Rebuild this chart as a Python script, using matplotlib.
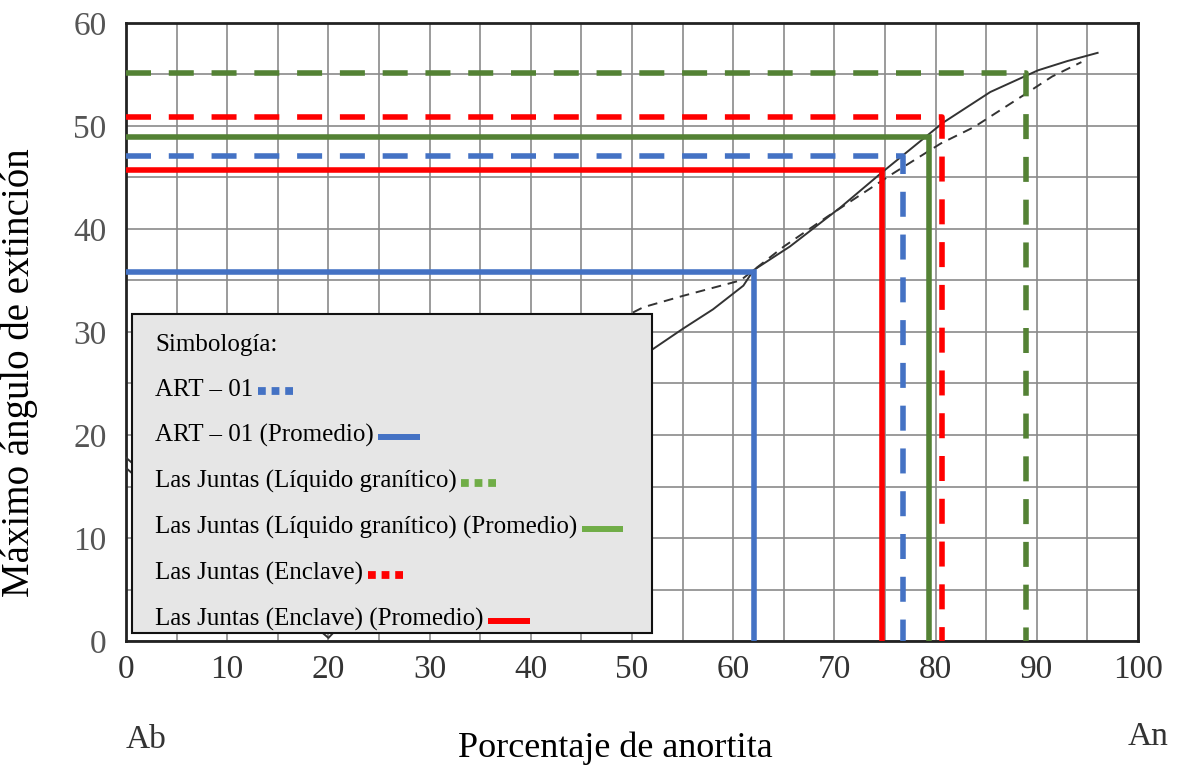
import numpy as np
import matplotlib.pyplot as plt
from matplotlib.patches import Rectangle
from matplotlib.lines import Line2D
from matplotlib.offsetbox import TextArea, DrawingArea, HPacker, VPacker, AnchoredOffsetbox

plt.rcParams['font.family'] = ['Liberation Serif', 'DejaVu Serif']

# Michel-Levy curves
solid_x = [0, 5, 10, 15, 20, 25, 30, 35, 40, 45, 50, 52, 55, 58, 61, 62, 65.6, 70.6, 74.7, 79.2, 80.7, 85.4, 90.1, 93, 96]
solid_y = [17.8, 13.5, 9, 4.5, 0.3, 5.5, 10.5, 15, 19.5, 23.5, 27, 28.3, 30.3, 32.2, 34.5, 36, 38.3, 42.1, 45.5, 49.1, 50.3, 53.3, 55.4, 56.3, 57.1]
dashed_x = [0, 5, 10, 15, 20, 25, 30, 35, 40, 45, 49.5, 51.1, 55, 60.7, 62, 65, 69.3, 75.8, 80.5, 83.8, 88.7, 91.5, 94.4]
dashed_y = [16.8, 12.5, 8, 4, 6, 10.5, 14.5, 18.5, 22.5, 27, 31.6, 32.4, 33.5, 35.0, 36, 38.3, 41.2, 45.4, 48.3, 49.9, 53, 54.8, 56.2]

# determinations: (An %, max extinction angle)
labels = ['ART – 01', 'ART – 01 (Promedio)',
          'Las Juntas (Líquido granítico)', 'Las Juntas (Líquido granítico) (Promedio)',
          'Las Juntas (Enclave)', 'Las Juntas (Enclave) (Promedio)']
an_values = [76.8, 62.0, 88.9, 79.3, 80.6, 74.7]
angle_values = [47.1, 35.8, 55.1, 48.9, 50.9, 45.7]
colors = ['#4472C4', '#4472C4', '#548235', '#548235', '#FF0000', '#FF0000']
legend_colors = ['#4472C4', '#4472C4', '#70AD47', '#70AD47', '#FF0000', '#FF0000']
is_mean = [False, True, False, True, False, True]

fig = plt.figure(figsize=(11.79, 7.71), dpi=100)
ax = fig.add_axes([0.1069, 0.1686, 0.8584, 0.8016])

ax.plot(solid_x, solid_y, color='#333333', lw=1.4, zorder=3)
ax.plot(dashed_x, dashed_y, color='#333333', lw=1.4, ls=(0, (5, 3.5)), zorder=3)

for x, y, c, m in zip(an_values, angle_values, colors, is_mean):
    ls = '-' if m else (0, (4.5, 3.2))
    ax.plot([0, x, x], [y, y, 0], color=c, lw=4, ls=ls,
            solid_joinstyle='miter', dash_capstyle='butt', zorder=4)

ax.set_xlim(0, 100)
ax.set_ylim(0, 60)
ax.set_xticks(np.arange(0, 101, 10))
ax.set_yticks(np.arange(0, 61, 10))
ax.set_xticks(np.arange(0, 101, 5), minor=True)
ax.set_yticks(np.arange(0, 61, 5), minor=True)
ax.grid(which='both', color='#8a8a8a', lw=1.2)
ax.set_axisbelow(True)
ax.tick_params(which='both', length=0)
ax.tick_params(axis='x', labelsize=24, pad=10, labelcolor='#333333')
ax.tick_params(axis='y', labelsize=24, pad=14, labelcolor='#555555')
for s in ax.spines.values():
    s.set_linewidth(2)
    s.set_color('#222222')

ax.set_xlabel('Porcentaje de anortita', fontsize=26)
ax.xaxis.set_label_coords(0.483, -0.147)
ax.set_ylabel('Máximo ángulo de extinción', fontsize=28)
ax.yaxis.set_label_coords(-0.087, 0.435)
ax.text(0, -0.16, 'Ab', transform=ax.get_xaxis_transform(), fontsize=24,
        ha='left', va='center', color='#333333')
ax.text(101, -0.155, 'An', transform=ax.get_xaxis_transform(), fontsize=24,
        ha='center', va='center', color='#333333')

# legend box
ax.add_patch(Rectangle((0.6, 0.8), 51.4, 30.9, facecolor='#e6e6e6',
                       edgecolor='#111111', lw=1.5, zorder=6))
rows = [TextArea('Simbología:', textprops=dict(fontsize=18))]
for lab, c, m in zip(labels, legend_colors, is_mean):
    da = DrawingArea(32, 10, 0, 0)
    if m:
        da.add_artist(Line2D([2, 32], [4, 4], color=c, lw=4.3,
                             solid_capstyle='butt'))
    else:
        da.add_artist(Line2D([2, 28], [4, 4], color=c, lw=5.6, ls=(0, (1, 0.75)),
                             dash_capstyle='butt'))
    rows.append(HPacker(children=[TextArea(lab, textprops=dict(fontsize=18)), da],
                        align='center', pad=0, sep=1))
box = VPacker(children=rows, align='left', pad=0, sep=16.5)
anch = AnchoredOffsetbox(loc='upper left', child=box, frameon=False, pad=0,
                         bbox_to_anchor=(2.9, 29.8), bbox_transform=ax.transData,
                         borderpad=0)
anch.set_zorder(7)
ax.add_artist(anch)

fig.savefig('out.png', dpi=100)
